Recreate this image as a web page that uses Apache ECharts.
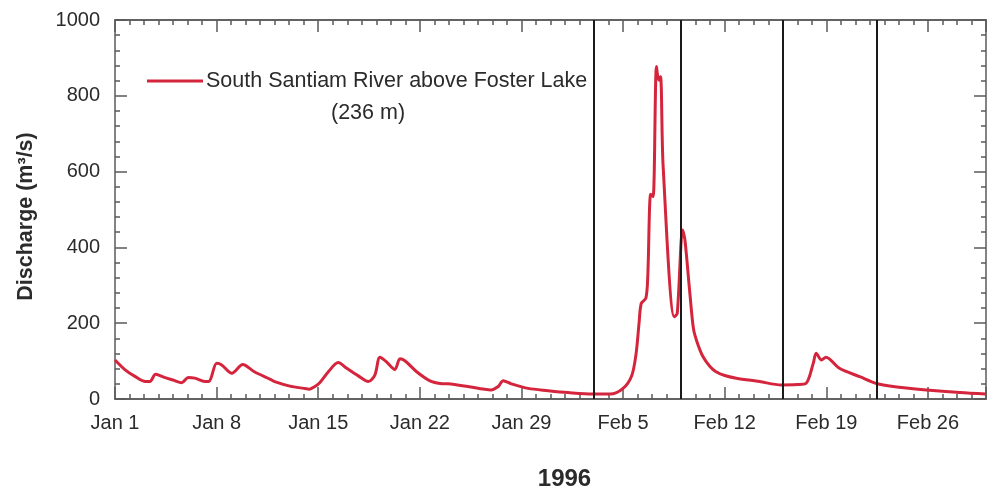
<!DOCTYPE html>
<html>
<head>
<meta charset="utf-8">
<script src="https://cdn.jsdelivr.net/npm/echarts@6/dist/echarts.min.js"></script>
<style>
  html, body { margin: 0; padding: 0; background: #ffffff; }
  #chart { width: 995px; height: 491px; }
</style>
</head>
<body>
<div id="chart"></div>
<script>
// Days since Jan 1, 1996 (fractional days for the storm hydrograph)
const days = [
  0, 0.7, 1.4, 2.1, 2.4, 2.8, 3.4, 4.0, 4.6, 5.05, 5.5, 6.2, 6.5, 7.0, 7.35,
  8.05, 8.8, 9.6, 10.7, 11.0, 12.05, 13.0, 13.4, 13.77, 14.1, 14.7, 15.38,
  15.96, 16.76, 17.45, 17.9, 18.25, 18.7, 19.28, 19.63, 19.97, 20.78, 21.7,
  22.4, 22.95, 24.3, 25.9, 26.4, 26.74, 27.3, 28.46, 29.84, 31.2, 32.9, 34.1,
  35.0, 35.6, 35.9, 36.1, 36.25, 36.57, 36.7, 36.9, 37.07, 37.3, 37.45, 37.58,
  37.76, 38.52, 38.73, 39.1, 39.26, 39.6, 39.85, 40.1, 40.5, 41.0, 41.4, 42.0,
  42.8, 44.4, 45.9, 47.0, 47.6, 48.1, 48.3, 48.67, 48.97, 49.9, 51.3, 52.46,
  53.6, 55.9, 58.2, 60
];
// Discharge, m³/s
const discharge = [
  103, 77, 59, 46, 46, 65, 57, 50, 43, 57, 55, 46, 47, 94, 90,
  68, 91, 72, 52, 46, 34, 28, 26, 33, 43, 72, 96,
  81, 61, 46, 63, 110, 98, 78, 106, 101, 72, 48,
  41, 40, 33, 24, 33, 48, 40, 28, 22, 17, 13, 13,
  28, 62, 121, 200, 252, 266, 323, 540, 534, 877, 842, 850,
  613, 217, 226, 446, 420, 279, 185, 150, 112, 85, 72, 62,
  55, 46, 37, 38, 41, 94, 121, 103, 110, 81, 59, 41,
  33, 24, 17, 13
];
// Weekly date labels on the time axis
const tickLabels = ['Jan 1', 'Jan 8', 'Jan 15', 'Jan 22', 'Jan 29', 'Feb 5', 'Feb 12', 'Feb 19', 'Feb 26'];
// Days marked with vertical reference lines
const markerDays = [33, 39, 46, 52.5];

const seriesName = 'South Santiam River above Foster Lake';
const seriesNote = '(236 m)';
const yearLabel = '1996';
const yLabel = 'Discharge (m³/s)';

const FONT = '"Liberation Sans", Arial, Helvetica, sans-serif';
const AXIS_COLOR = '#5a5a5a';
const TEXT_COLOR = '#2b2b2b';
const LINE_COLOR = '#d4253d';

const frameLine = { show: true, onZero: false, lineStyle: { color: AXIS_COLOR, width: 1.5 } };

function xAxisDef(position, major, withLabels) {
  return {
    type: 'value',
    position: position,
    min: 0,
    max: 60,
    interval: major ? 7 : 1,
    axisLine: frameLine,
    axisTick: { show: true, inside: true, length: major ? 12 : 5, lineStyle: { color: AXIS_COLOR, width: 1.5 } },
    axisLabel: withLabels ? {
      show: true,
      margin: 14,
      fontFamily: FONT,
      fontSize: 20,
      color: TEXT_COLOR,
      formatter: function (v) {
        const i = v / 7;
        return Number.isInteger(i) && tickLabels[i] ? tickLabels[i] : '';
      }
    } : { show: false },
    splitLine: { show: false }
  };
}

function yAxisDef(position, withLabels) {
  return {
    type: 'value',
    position: position,
    min: 0,
    max: 1000,
    interval: 200,
    axisLine: frameLine,
    axisTick: { show: true, inside: true, length: 12, lineStyle: { color: AXIS_COLOR, width: 1.5 } },
    minorTick: { show: true, splitNumber: 5, length: 5, lineStyle: { color: AXIS_COLOR, width: 1.5 } },
    axisLabel: withLabels ? {
      show: true, margin: 15, fontFamily: FONT, fontSize: 20, color: TEXT_COLOR,
      formatter: function (v) { return String(v); }
    } : { show: false },
    splitLine: { show: false },
    minorSplitLine: { show: false }
  };
}

const xMainBottom = xAxisDef('bottom', true, true);
xMainBottom.name = yearLabel;
xMainBottom.nameLocation = 'middle';
xMainBottom.nameGap = 68;
xMainBottom.nameTextStyle = { fontFamily: FONT, fontSize: 24, fontWeight: 'bold', color: TEXT_COLOR, padding: [0, 0, 0, 28] };

const yMainLeft = yAxisDef('left', true);
yMainLeft.name = yLabel;
yMainLeft.nameLocation = 'middle';
yMainLeft.nameGap = 78;
yMainLeft.nameRotate = 90;
yMainLeft.nameTextStyle = { fontFamily: FONT, fontSize: 21.5, fontWeight: 'bold', color: TEXT_COLOR, padding: [0, 14, 0, 0] };

const chart = echarts.init(document.getElementById('chart'), null, { renderer: 'canvas' });

chart.setOption({
  backgroundColor: '#ffffff',
  animation: false,
  grid: { left: 115, right: 9, top: 20, bottom: 92, containLabel: false, outerBoundsMode: 'none' },
  xAxis: [
    xMainBottom,
    xAxisDef('bottom', false, false),
    xAxisDef('top', true, false),
    xAxisDef('top', false, false)
  ],
  yAxis: [
    yMainLeft,
    yAxisDef('right', false)
  ],
  legend: {
    left: 142,
    top: 65,
    icon: 'rect',
    itemWidth: 56,
    itemHeight: 3,
    itemGap: 8,
    textStyle: { fontFamily: FONT, fontSize: 21.5, color: TEXT_COLOR, padding: [0, 0, 0, -2] },
    data: [seriesName]
  },
  graphic: [{
    type: 'text',
    left: 367 - 36,
    top: 102,
    style: { text: seriesNote, fontFamily: FONT, fontSize: 21.5, fill: TEXT_COLOR }
  }],
  series: [{
    name: seriesName,
    type: 'line',
    xAxisIndex: 0,
    yAxisIndex: 0,
    data: days.map(function (d, i) { return [d, discharge[i]]; }),
    showSymbol: false,
    smooth: 0.3,
    lineStyle: { color: LINE_COLOR, width: 3 },
    itemStyle: { color: LINE_COLOR },
    markLine: {
      silent: true,
      symbol: ['none', 'none'],
      label: { show: false },
      lineStyle: { color: '#1a1a1a', width: 2, type: 'solid' },
      data: markerDays.map(function (d) { return { xAxis: d }; })
    },
    z: 3
  }]
});
</script>
</body>
</html>
